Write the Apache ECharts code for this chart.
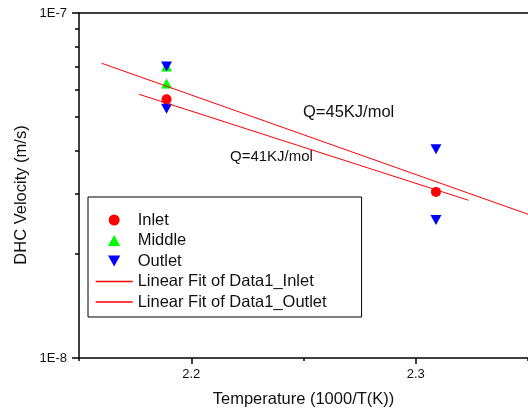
<!DOCTYPE html>
<html>
<head>
<meta charset="utf-8">
<script src="https://cdn.jsdelivr.net/npm/echarts@6/dist/echarts.min.js"></script>
<style>
html,body{margin:0;padding:0;background:#fff;}
#c{width:528px;height:416px;}
</style>
</head>
<body>
<div id="c"></div>
<script>
// Data
var xTickLabels = [2.2, 2.3];
var xMinorTicks = [2.15, 2.25, 2.35];
var yMinorTicks = [2e-8, 3e-8, 4e-8, 5e-8, 6e-8, 7e-8, 8e-8, 9e-8];
var inletData = [[2.189, 5.62e-8], [2.309, 3.03e-8]];
var middleData = [[2.189, 7.0e-8], [2.189, 6.25e-8]];
var outletData = [[2.189, 7.0e-8], [2.189, 5.28e-8], [2.309, 4.03e-8], [2.309, 2.51e-8]];
var fitInlet = [[2.1768, 5.81e-8], [2.3235, 2.865e-8]];
var fitOutlet = [[2.1601, 7.15e-8], [2.35, 2.61e-8]];
var annotations = ['Q=45KJ/mol', 'Q=41KJ/mol'];
var xTitle = 'Temperature (1000/T(K))';
var yTitle = 'DHC Velocity (m/s)';

var FONT = 'Liberation Sans, Arial, sans-serif';
var UP = 'path://M5,0 L10,9 L0,9 Z';
var DOWN = 'path://M0,0 L10,0 L5,9 Z';
var chart = echarts.init(document.getElementById('c'));
var axisLine = {show: true, lineStyle: {color: '#000', width: 1.5}};
chart.setOption({
  animation: false,
  backgroundColor: '#fff',
  grid: {left: 79, top: 13, width: 450, bottom: 58, containLabel: false},
  xAxis: [
    {type: 'value', min: 2.15, max: 2.35, position: 'bottom',
     name: xTitle, nameLocation: 'middle', nameGap: 33,
     nameTextStyle: {fontFamily: FONT, fontSize: 16.5, color: '#111'},
     axisLine: axisLine, splitLine: {show: false},
     axisTick: {show: true, customValues: xTickLabels, length: 6, lineStyle: {color: '#000', width: 1.5}},
     axisLabel: {customValues: xTickLabels, fontFamily: FONT, fontSize: 13, color: '#111', margin: 10,
       formatter: function (v) { return v.toFixed(1); }}},
    {type: 'value', min: 2.15, max: 2.35, position: 'bottom',
     axisLine: {show: false}, splitLine: {show: false},
     axisTick: {show: true, customValues: xMinorTicks, length: 3, lineStyle: {color: '#000', width: 1.5}},
     axisLabel: {show: false}},
    {type: 'value', min: 2.15, max: 2.35, position: 'top',
     axisLine: axisLine, splitLine: {show: false}, axisTick: {show: false}, axisLabel: {show: false}}
  ],
  yAxis: [
    {type: 'log', logBase: 10, min: 1e-8, max: 1e-7, position: 'left',
     axisLine: axisLine, splitLine: {show: false},
     axisTick: {show: true, length: 7, lineStyle: {color: '#000', width: 1.5}},
     axisLabel: {fontFamily: FONT, fontSize: 13, color: '#111', margin: 12,
       formatter: function (v) { return '1E' + Math.round(Math.log10(v)); }}},
    {type: 'log', logBase: 10, min: 1e-8, max: 1e-7, position: 'left',
     axisLine: {show: false}, splitLine: {show: false},
     axisTick: {show: true, customValues: yMinorTicks, length: 4, lineStyle: {color: '#000', width: 1.5}},
     axisLabel: {show: false}}
  ],
  legend: {
    orient: 'vertical', left: 88, top: 197,
    padding: [13, 35, 5, 7], itemGap: 0.5,
    itemWidth: 37, itemHeight: 11, symbolKeepAspect: true,
    borderColor: '#000', borderWidth: 1, backgroundColor: '#fff',
    textStyle: {fontFamily: FONT, fontSize: 16.5, color: '#111', lineHeight: 20},
    data: [
      {name: 'Inlet', icon: 'circle', itemStyle: {opacity: 1}},
      {name: 'Middle', icon: UP, symbolRotate: 0, itemStyle: {opacity: 1}},
      {name: 'Outlet', icon: DOWN, symbolRotate: 0, itemStyle: {opacity: 1}},
      {name: 'Linear Fit of Data1_Inlet', icon: 'inherit', itemStyle: {opacity: 0},
       lineStyle: {width: 1.3, color: '#ff0000'}},
      {name: 'Linear Fit of Data1_Outlet', icon: 'inherit', itemStyle: {opacity: 0},
       lineStyle: {width: 1.3, color: '#ff0000'}}
    ]
  },
  series: [
    {name: 'Inlet', type: 'scatter', data: inletData, symbol: 'circle', symbolSize: 10,
     itemStyle: {color: '#ff0000', opacity: 1}, z: 3},
    {name: 'Middle', type: 'scatter', data: middleData, symbol: UP, symbolSize: [11, 10],
     itemStyle: {color: '#00ff00', opacity: 1}, z: 3},
    {name: 'Outlet', type: 'scatter', data: outletData, symbol: DOWN, symbolSize: [11, 10],
     itemStyle: {color: '#0000ff', opacity: 1}, z: 3},
    {name: 'Linear Fit of Data1_Inlet', type: 'line', data: fitInlet, symbol: 'none', showSymbol: false,
     lineStyle: {color: '#ff0000', width: 1}, itemStyle: {color: '#ff0000'}, z: 4},
    {name: 'Linear Fit of Data1_Outlet', type: 'line', data: fitOutlet, symbol: 'none', showSymbol: false,
     lineStyle: {color: '#ff0000', width: 1}, itemStyle: {color: '#ff0000'}, z: 4}
  ],
  graphic: [
    {type: 'text', left: 303, top: 104, style: {text: annotations[0], font: '16.5px ' + FONT, fill: '#111'}},
    {type: 'text', left: 230, top: 149, style: {text: annotations[1], font: '15px ' + FONT, fill: '#111'}},
    {type: 'text', x: 21, y: 195, rotation: Math.PI / 2,
     style: {text: yTitle, font: '16.5px ' + FONT, fill: '#111', align: 'center', verticalAlign: 'middle'}}
  ]
});
</script>
</body>
</html>
